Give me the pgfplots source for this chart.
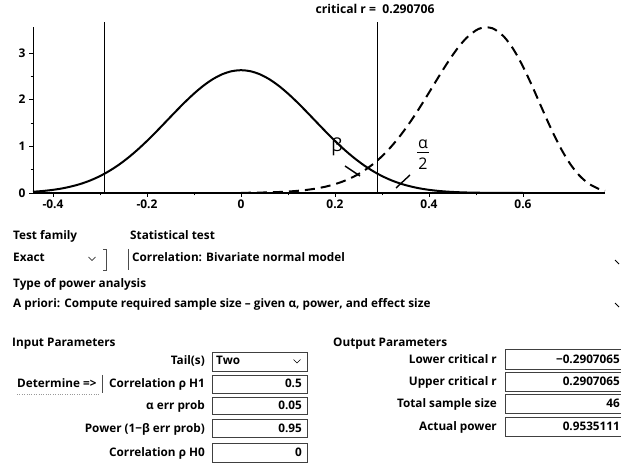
\documentclass[border=0pt]{standalone}
\usepackage{fontspec}
\setmainfont{Open Sans}
\usepackage{pgfplots}
\usepackage{pgfplotstable}
\pgfplotsset{compat=1.18}

% density of r under H0 (rho = 0, N = 46)
\pgfplotstableread{
r dens
-0.4426 0.027
-0.44 0.0287
-0.42 0.0447
-0.40 0.0676
-0.38 0.0995
-0.36 0.143
-0.34 0.199
-0.32 0.272
-0.30 0.363
-0.28 0.474
-0.26 0.605
-0.24 0.757
-0.22 0.928
-0.20 1.116
-0.18 1.317
-0.16 1.526
-0.14 1.736
-0.12 1.940
-0.10 2.130
-0.08 2.299
-0.06 2.439
-0.04 2.544
-0.02 2.609
0.00 2.631
0.02 2.609
0.04 2.544
0.06 2.439
0.08 2.299
0.10 2.130
0.12 1.940
0.14 1.736
0.16 1.526
0.18 1.317
0.20 1.116
0.22 0.928
0.24 0.757
0.26 0.605
0.28 0.474
0.30 0.363
0.32 0.272
0.34 0.199
0.36 0.143
0.38 0.0995
0.40 0.0676
0.42 0.0447
0.44 0.0287
0.46 0.0179
0.48 0.0108
0.50 0.0063
0.55 0.0014
0.60 0.0002
}\nullrho

% density of r under H1 (rho = 0.5, N = 46)
\pgfplotstableread{
r dens
0.00 0.0035
0.04 0.0088
0.08 0.0207
0.10 0.0311
0.12 0.0460
0.14 0.0670
0.16 0.0962
0.18 0.1360
0.20 0.1895
0.22 0.2599
0.24 0.3512
0.26 0.4672
0.28 0.6117
0.30 0.7880
0.32 0.9984
0.34 1.2434
0.36 1.5211
0.38 1.8265
0.40 2.1508
0.42 2.4813
0.44 2.8011
0.46 3.0900
0.48 3.3257
0.50 3.4857
0.51 3.5309
0.52 3.5501
0.53 3.5418
0.54 3.5049
0.56 3.3442
0.58 3.0735
0.60 2.7096
0.62 2.2806
0.64 1.8218
0.66 1.3720
0.68 0.9657
0.70 0.6288
0.72 0.3740
0.74 0.1999
0.76 0.0940
0.77 0.0609
0.7745 0.048
}\altrho

\begin{document}
\begin{tikzpicture}[
  lbl/.style={font=\bfseries\fontsize{11.8}{13}\selectfont, inner sep=0pt, text height=8.5bp, text depth=2.5bp},
  fld/.style={draw=black!75, line width=0.8bp},
]
\path[use as bounding box] (0,0) rectangle (621bp,473bp);

\begin{axis}[
  at={(33bp,280bp)}, anchor=south west,
  scale only axis, width=572bp, height=166bp,
  xmin=-0.4426, xmax=0.7745, ymin=0, ymax=3.557,
  axis x line=bottom, axis y line=left,
  axis line style={-},
  x axis line style={line width=1.4bp},
  y axis line style={line width=0.9bp},
  xtick={-0.4,-0.2,0,0.2,0.4,0.6}, ytick={0,1,2,3},
  minor x tick num=1, minor y tick num=1,
  tick align=outside,
  major tick length=4bp, minor tick length=2.5bp,
  tick style={black, line width=0.9bp},
  ticklabel style={font=\bfseries\fontsize{12}{13}\selectfont},
  xticklabel style={yshift=1bp},
  /pgf/number format/assume math mode=true,
  clip=false,
]
\addplot[black, line width=2bp, smooth] table[x=r, y=dens] {\nullrho};
\addplot[black, line width=2bp, dash pattern=on 10bp off 6bp, smooth] table[x=r, y=dens] {\altrho};
% critical r lines
\addplot[black, line width=1.2bp] coordinates {(-0.2907,0) (-0.2907,3.66)};
\addplot[black, line width=1.2bp] coordinates {(0.2907,0) (0.2907,3.66)};
\end{axis}

\begin{scope}[x=1bp, y=1bp]
% plot annotations
\node[lbl, font=\bfseries\fontsize{12.2}{13}\selectfont] at (375,462) {critical r = \ 0.290706};
\node[inner sep=0pt, font=\fontsize{18}{18}\selectfont] at (337,326) {β};
\draw[line width=1.4bp] (345,307) -- (360,297);
\node[inner sep=0pt, font=\fontsize{16}{16}\selectfont] at (423,329) {α};
\draw[line width=1bp] (417,320.5) -- (429,320.5);
\node[inner sep=0pt, font=\fontsize{16}{16}\selectfont] at (423,309) {2};
\draw[line width=1.4bp] (396,285) -- (410,298);

% test selection
\node[lbl, anchor=west] at (13,237) {Test family};
\node[lbl, anchor=west] at (130,237) {Statistical test};
\node[lbl, anchor=west] at (13,215) {Exact};
\draw[line width=0.7bp] (88.5,216) -- (92,212.5) -- (95.5,216);
\draw[black!70, line width=0.7bp] (103,224) -- (106,224) -- (106,203) -- (103,203);
\draw[black!70, line width=0.7bp] (128,224) -- (128,203);
\node[lbl, anchor=west] at (132,215) {Correlation: Bivariate normal model};
\draw[line width=0.8bp] (615,213) -- (619,209);
\node[lbl, anchor=west] at (13,189) {Type of power analysis};
\node[lbl, anchor=west] at (13,169) {A priori: Compute required sample size – given α, power, and effect size};
\draw[line width=0.8bp] (615,170) -- (619,166);

% input parameters
\node[lbl, anchor=west] at (12,130) {Input Parameters};
\draw[fld] (212,102) rectangle (307,121);
\node[lbl, anchor=east] at (205,112) {Tail(s)};
\node[lbl, anchor=west] at (216,112) {Two};
\draw[line width=0.7bp] (293.5,113.5) -- (297,110) -- (300.5,113.5);

\node[lbl, anchor=west] at (17,89) {Determine =>};
\draw[black!70, line width=0.7bp] (102,98) -- (102,80);
\draw[black!40, dotted] (17,79) -- (100,79);
\draw[fld] (212,80) rectangle (307,98);
\node[lbl, anchor=east] at (205,89) {Correlation ρ H1};
\node[lbl, anchor=east] at (302,89) {0.5};

\draw[fld] (212,59) rectangle (307,76);
\node[lbl, anchor=east] at (205,67) {α err prob};
\node[lbl, anchor=east] at (302,67) {0.05};

\draw[fld] (212,36) rectangle (307,54);
\node[lbl, anchor=east] at (205,44) {Power (1−β err prob)};
\node[lbl, anchor=east] at (302,44) {0.95};

\draw[fld] (212,11) rectangle (307,30);
\node[lbl, anchor=east] at (205,20) {Correlation ρ H0};
\node[lbl, anchor=east] at (302,20) {0};

% output parameters
\node[lbl, anchor=west] at (333,130) {Output Parameters};
\draw[fld] (505,104) rectangle (624,124);
\node[lbl, anchor=east] at (497,113) {Lower critical r};
\node[lbl, anchor=east] at (620,113) {−0.2907065};

\draw[fld] (505,82) rectangle (624,101);
\node[lbl, anchor=east] at (497,91) {Upper critical r};
\node[lbl, anchor=east] at (620,91) {0.2907065};

\draw[fld] (505,60) rectangle (624,79);
\node[lbl, anchor=east] at (497,69) {Total sample size};
\node[lbl, anchor=east] at (620,69) {46};

\draw[fld] (505,37) rectangle (624,56);
\node[lbl, anchor=east] at (497,46) {Actual power};
\node[lbl, anchor=east] at (620,46) {0.9535111};
\end{scope}
\end{tikzpicture}
\end{document}
